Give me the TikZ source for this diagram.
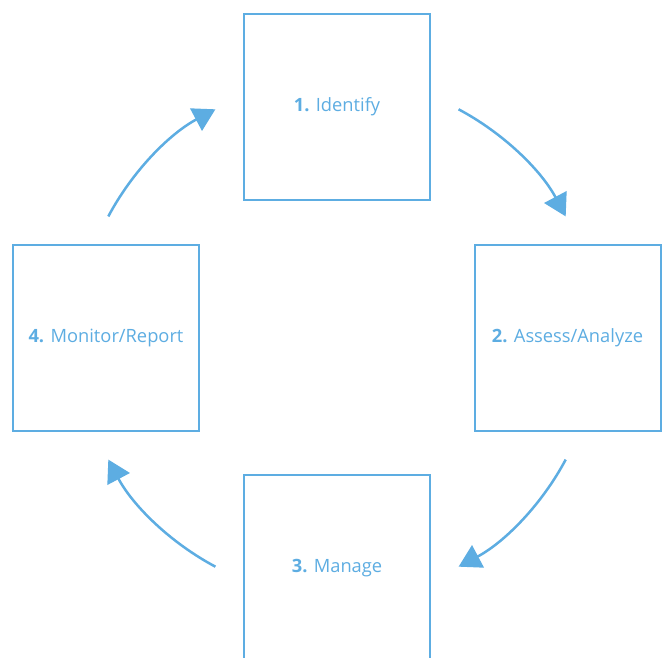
\documentclass[tikz,border=0pt]{standalone}
\usepackage{fontspec}
\setmainfont{Open Sans}
\usetikzlibrary{arrows.meta,calc}
\definecolor{cycleblue}{RGB}{93,173,226}
\begin{document}
\begin{tikzpicture}[x=1pt,y=1pt,
  stage/.style={draw=cycleblue, line width=2pt, minimum width=186pt,
    minimum height=186pt, inner sep=0pt, text=cycleblue,
    font=\fontsize{18.3}{22}\selectfont},
  flow/.style={draw=cycleblue, line width=2.5pt,
    -{Triangle[length=22pt,width=25pt]}}]
\clip (0,0) rectangle (666,657);
\fill[white] (0,0) rectangle (666,657);

% the four stages of the cycle
\node[stage] (identify) at (337,550) {\textbf{1.} Identify};
\node[stage] (assess)   at (567.5,319) {\textbf{2.} Assess/Analyze};
\node[stage] (manage)   at (337,89) {\textbf{3.} Manage};
\node[stage] (monitor)  at (106,319) {\textbf{4.} Monitor/Report};

% arcs of one circle around the centre of the cycle
\coordinate (hub) at (337,319);
\foreach \a/\name in {152/tl, 62/tr, -28/br, -118/bl}{
  \coordinate (\name) at ($(hub)+(\a:259)$);
}
\draw[flow] (tl) arc[start angle=152, end angle=118, radius=259];
\draw[flow] (tr) arc[start angle=62, end angle=28, radius=259];
\draw[flow] (br) arc[start angle=-28, end angle=-62, radius=259];
\draw[flow] (bl) arc[start angle=-118, end angle=-152, radius=259];
\end{tikzpicture}
\end{document}
